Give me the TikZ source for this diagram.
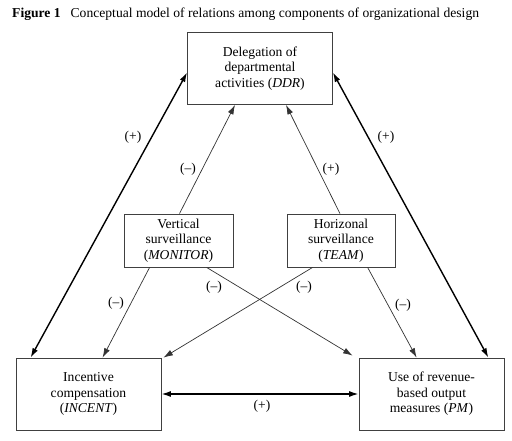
\documentclass[tikz,border=0pt]{standalone}
\usepackage{fontspec}
\setmainfont{Liberation Serif}
\usetikzlibrary{arrows.meta,calc}
\begin{document}
\begin{tikzpicture}[x=1pt,y=-1pt,
  box/.style={draw=black!75,line width=0.8pt,align=center,inner sep=0pt,
    font=\fontsize{13.6}{15.5}\selectfont},
  thin/.style={draw=black!80,line width=0.7pt,-{Latex[length=9.5pt,width=6pt]}},
  thick/.style={draw=black,line width=1.4pt,{Latex[length=9.5pt,width=6pt]}-{Latex[length=9.5pt,width=6pt]}},
  lab/.style={font=\fontsize{13.5}{15}\selectfont,inner sep=0pt}]
\useasboundingbox (0,0) rectangle (512,441);
\node[anchor=base west,inner sep=0pt,font=\fontsize{13.6}{15}\selectfont] (title) at (12,18)
  {\textbf{Figure 1}\hspace{10pt}Conceptual model of relations among components of organizational design};
\node[box,minimum width=145pt,minimum height=72pt] (ddr) at (260,68.5)
  {Delegation of\\departmental\\activities (\textit{DDR})};
\node[box,minimum width=109pt,minimum height=53pt] (mon) at (178.5,240.5)
  {Vertical\\surveillance\\(\textit{MONITOR})};
\node[box,minimum width=108pt,minimum height=53pt] (team) at (341,240.5)
  {Horizonal\\surveillance\\(\textit{TEAM})};
\node[box,minimum width=145pt,minimum height=72pt] (inc) at (88.5,394)
  {Incentive\\compensation\\(\textit{INCENT})};
\node[box,minimum width=145pt,minimum height=72pt] (pm) at (431.5,394)
  {Use of revenue-\\based output\\measures (\textit{PM})};
% thick arrows
\draw[thick] ([xshift=15pt]inc.north west) -- ([yshift=-4pt]ddr.west);
\draw[thick] ([xshift=-16pt]pm.north east) -- ([yshift=-4pt]ddr.east);
\draw[thick] (inc.east) -- (pm.west);
% thin arrows
\draw[thin] ([xshift=1pt]mon.north) -- ([xshift=-25pt]ddr.south);
\draw[thin] ([xshift=-1pt]team.north) -- ([xshift=26pt]ddr.south);
\draw[thin] ([xshift=26pt]mon.south west) -- ([xshift=87pt]inc.north west);
\draw[thin] ([xshift=83pt]mon.south west) -- ([xshift=-6pt,yshift=2pt]pm.north west);
\draw[thin] ([xshift=26pt]team.south west) -- ([xshift=2pt]inc.north east);
\draw[thin] ([xshift=81pt]team.south west) -- ([xshift=58pt]pm.north west);
% labels
\node[lab] (l1) at (133,137) {(+)};
\node[lab] (l2) at (386,137) {(+)};
\node[lab] (l3) at (188,169) {(–)};
\node[lab] (l4) at (331,169) {(+)};
\node[lab] (l5) at (116,303) {(–)};
\node[lab] (l6) at (214,287) {(–)};
\node[lab] (l7) at (304,287) {(–)};
\node[lab] (l8) at (403,305) {(–)};
\node[lab] (l9) at (262,406) {(+)};
\end{tikzpicture}
\end{document}
